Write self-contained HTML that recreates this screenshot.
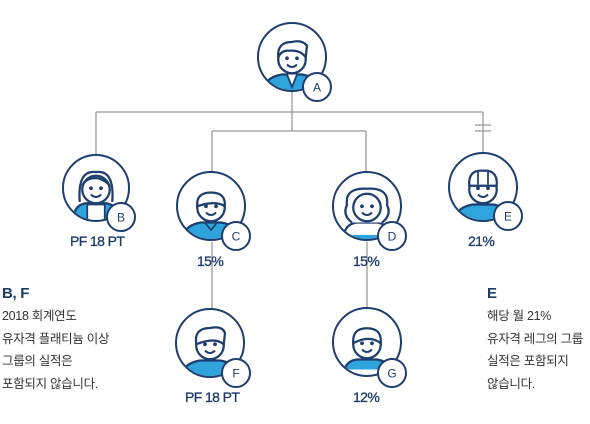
<!DOCTYPE html>
<html><head><meta charset="utf-8"><style>
html,body{margin:0;padding:0;background:#fff;}
body{width:590px;height:424px;overflow:hidden;position:relative;font-family:"Liberation Sans","Noto Sans CJK KR",sans-serif;}
svg{position:absolute;left:0;top:0;}
.t{position:absolute;color:#1b3a66;font-size:14px;letter-spacing:-0.6px;-webkit-text-stroke:0.3px #1b3a66;}
.p{position:absolute;color:#333;font-size:12.5px;line-height:22.5px;letter-spacing:-0.3px;}
.h{color:#1b3a66;font-size:15px;font-weight:bold;line-height:22px;}
</style></head><body>
<svg width="590" height="424" viewBox="0 0 590 424">
<defs>
<g id="face">
  <circle cx="0" cy="2" r="11" fill="#fff" stroke="#1d3e6e" stroke-width="1.8"/>
  <circle cx="-4" cy="1" r="1.5" fill="#1d3e6e"/>
  <circle cx="4" cy="1" r="1.5" fill="#1d3e6e"/>
  <path d="M-4 6 Q0 10 4 6" fill="none" stroke="#1d3e6e" stroke-width="1.6"/>
</g>
<g id="body">
  <path d="M-22 40 L-22 24 Q-20 16 -8 14 L8 14 Q20 16 22 24 L22 40 Z" fill="#2fa3dc" stroke="#1d3e6e" stroke-width="1.8"/>
</g>
<clipPath id="cA"><circle cx="292" cy="57" r="33"/></clipPath>
<clipPath id="cB"><circle cx="96" cy="188" r="32"/></clipPath>
<clipPath id="cC"><circle cx="211" cy="206" r="33"/></clipPath>
<clipPath id="cD"><circle cx="367" cy="206" r="33"/></clipPath>
<clipPath id="cE"><circle cx="483" cy="187" r="33"/></clipPath>
<clipPath id="cF"><circle cx="210" cy="343" r="33"/></clipPath>
<clipPath id="cG"><circle cx="367" cy="342" r="33"/></clipPath>
</defs>
<g stroke="#999" stroke-width="1.3" fill="none">
  <path d="M292 91 V112 M96 112 H483 M96 112 V156 M483 112 V153 M292 112 V131 M212 131 H366 M212 131 V172 M366 131 V172 M212 242 V309 M367 242 V307"/>
  <path d="M475 125 H491 M475 131 H491"/>
</g>
<g fill="#fff">
  <circle cx="292" cy="57" r="34"/><circle cx="96" cy="188" r="33"/><circle cx="211" cy="206" r="34"/>
  <circle cx="367" cy="206" r="34"/><circle cx="483" cy="187" r="34"/><circle cx="210" cy="343" r="34"/><circle cx="367" cy="342" r="34"/>
</g>
<g clip-path="url(#cA)"><g transform="translate(292,57) scale(1.25)"><use href="#body"/><path d="M-4 14 L0 24 L4 14" fill="#fff" stroke="#1d3e6e" stroke-width="1.4"/><use href="#face"/><path d="M-11 0 Q-12 -12 0 -12 Q8 -14 12 -9 L11 0 Q6 -6 -2 -5 Q-8 -6 -11 0Z" fill="#fff" stroke="#1d3e6e" stroke-width="1.8"/></g></g>
<g clip-path="url(#cB)"><g transform="translate(96,187) scale(1.25)"><path d="M-17 40 L-17 20 Q-15 14 -8 13 L8 13 Q15 14 17 20 L17 40Z" fill="#2fa3dc" stroke="#1d3e6e" stroke-width="1.8"/><rect x="-7" y="14" width="14" height="26" fill="#fff" stroke="#1d3e6e" stroke-width="1.4"/><path d="M-13 12 Q-15 -14 0 -12 Q15 -14 13 12" fill="#fff" stroke="#1d3e6e" stroke-width="1.8"/><use href="#face"/><path d="M-11 -1 Q-8 -8 2 -7 Q8 -5 11 -1" fill="none" stroke="#1d3e6e" stroke-width="1.8"/></g></g>
<g clip-path="url(#cC)"><g transform="translate(211,205) scale(1.25)"><use href="#body"/><path d="M-5 14 L0 20 L5 14" fill="none" stroke="#1d3e6e" stroke-width="1.4"/><use href="#face"/><path d="M-11 1 Q-12 -10 0 -10 Q12 -10 11 1 Q4 -4 -11 1Z" fill="#fff" stroke="#1d3e6e" stroke-width="1.8"/></g></g>
<g clip-path="url(#cD)"><g transform="translate(367,205) scale(1.25)"><path d="M-18 40 L-18 22 Q-16 15 -8 14 L8 14 Q16 15 18 22 L18 40Z" fill="#fff" stroke="#1d3e6e" stroke-width="1.8"/><rect x="-17" y="24" width="34" height="16" fill="#2fa3dc"/><path d="M-12 14 Q-20 8 -16 0 Q-18 -14 0 -13 Q18 -14 16 0 Q20 8 12 14" fill="#fff" stroke="#1d3e6e" stroke-width="1.8"/><use href="#face"/></g></g>
<g clip-path="url(#cE)"><g transform="translate(483,187) scale(1.25)"><use href="#body"/><use href="#face"/><path d="M-11 -1 Q-12 -14 0 -13 Q12 -14 11 -1 Z" fill="#fff" stroke="#1d3e6e" stroke-width="1.8"/><path d="M-4 -12 V-2 M4 -12 V-2" stroke="#1d3e6e" stroke-width="1.4"/></g></g>
<g clip-path="url(#cF)"><g transform="translate(210,343) scale(1.25)"><use href="#body"/><use href="#face"/><path d="M-11 1 Q-13 -12 0 -12 Q10 -14 12 -8 L11 1 Q4 -5 -11 1Z" fill="#fff" stroke="#1d3e6e" stroke-width="1.8"/></g></g>
<g clip-path="url(#cG)"><g transform="translate(367,342) scale(1.25)"><path d="M-18 40 L-18 22 Q-16 15 -8 14 L8 14 Q16 15 18 22 L18 40Z" fill="#2fa3dc" stroke="#1d3e6e" stroke-width="1.8"/><rect x="-17" y="22" width="34" height="5" fill="#fff"/><use href="#face"/><path d="M-11 1 Q-12 -11 0 -11 Q12 -11 11 1 Q2 -6 -11 1Z" fill="#fff" stroke="#1d3e6e" stroke-width="1.8"/></g></g>
<g fill="none" stroke="#1d3e6e" stroke-width="2">
  <circle cx="292" cy="57" r="34"/><circle cx="96" cy="188" r="33"/><circle cx="211" cy="206" r="34"/>
  <circle cx="367" cy="206" r="34"/><circle cx="483" cy="187" r="34"/><circle cx="210" cy="343" r="34"/><circle cx="367" cy="342" r="34"/>
</g>
<g fill="#fff" stroke="#1d3e6e" stroke-width="2">
  <circle cx="317" cy="87" r="14"/><circle cx="121" cy="217" r="14"/><circle cx="236" cy="236" r="14"/>
  <circle cx="392" cy="236" r="14"/><circle cx="508" cy="216" r="14"/><circle cx="236" cy="373" r="14"/><circle cx="392" cy="373" r="14"/>
</g>
<g fill="#1d3e6e" font-family="Liberation Sans, sans-serif" font-size="12" text-anchor="middle">
  <text x="317" y="91.5">A</text><text x="121" y="221.5">B</text><text x="236" y="240.5">C</text>
  <text x="392" y="240.5">D</text><text x="508" y="220.5">E</text><text x="236" y="377.5">F</text><text x="392" y="377.5">G</text>
</g>
</svg>
<div class="t" style="left:70px;top:233px;">PF 18 PT</div>
<div class="t" style="left:197px;top:253px;">15%</div>
<div class="t" style="left:353px;top:253px;">15%</div>
<div class="t" style="left:468px;top:233px;">21%</div>
<div class="t" style="left:185px;top:389px;">PF 18 PT</div>
<div class="t" style="left:353px;top:389px;">12%</div>
<div class="p" style="left:2px;top:283px;"><div class="h">B, F</div>2018 회계연도<br>유자격 플래티늄 이상<br>그룹의 실적은<br>포함되지 않습니다.</div>
<div class="p" style="left:487px;top:283px;"><div class="h">E</div>해당 월 21%<br>유자격 레그의 그룹<br>실적은 포함되지<br>않습니다.</div>
</body></html>
